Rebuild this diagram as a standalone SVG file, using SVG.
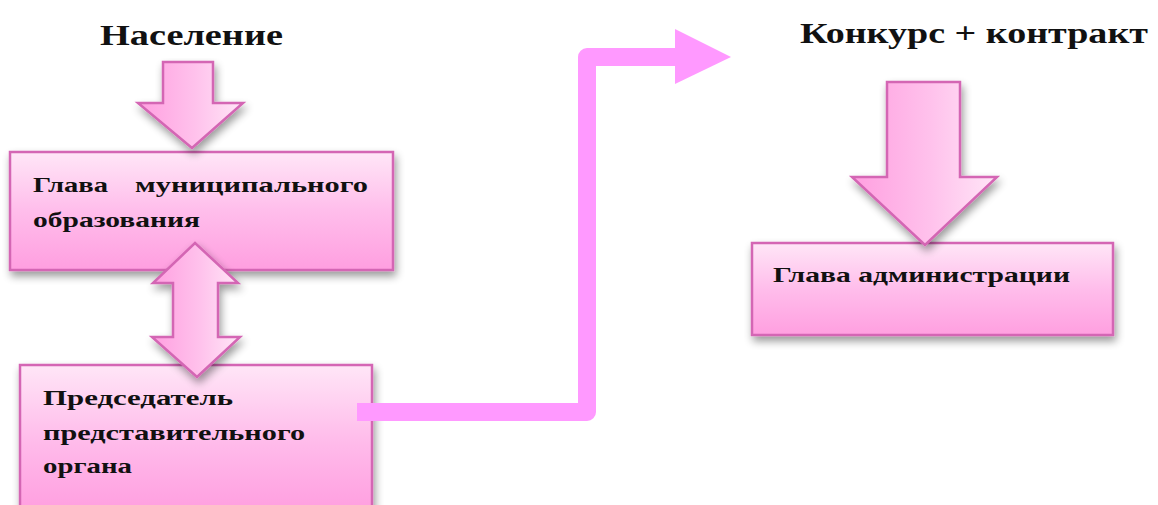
<svg xmlns="http://www.w3.org/2000/svg" width="1158" height="505" viewBox="0 0 1158 505">
<defs>
<linearGradient id="gBox" x1="0" y1="0" x2="0" y2="1">
<stop offset="0" stop-color="#ffe6f7"/>
<stop offset="0.5" stop-color="#ffbdeb"/>
<stop offset="1" stop-color="#ff9fe0"/>
</linearGradient>
<linearGradient id="gArr" x1="0" y1="0" x2="1" y2="0">
<stop offset="0" stop-color="#ff9fe0"/>
<stop offset="0.55" stop-color="#ffc2ec"/>
<stop offset="1" stop-color="#ffe6f7"/>
</linearGradient>
<filter id="sh" x="-10%" y="-10%" width="125%" height="135%">
<feGaussianBlur in="SourceAlpha" stdDeviation="4"/>
<feOffset dx="2" dy="5" result="b"/>
<feComponentTransfer><feFuncA type="linear" slope="0.4"/></feComponentTransfer>
<feMerge><feMergeNode/><feMergeNode in="SourceGraphic"/></feMerge>
</filter>
</defs>
<style>
.box{fill:url(#gBox);stroke:#d466b4;stroke-width:2.5;filter:url(#sh)}
.arr{fill:url(#gArr);stroke:#d466b4;stroke-width:2.5;stroke-linejoin:miter;filter:url(#sh)}
.t{font-family:"Liberation Serif","Times New Roman",serif;font-weight:bold;fill:#111}
.h{font-size:29px}
.b{font-size:22px}
</style>
<rect width="1158" height="505" fill="#fff"/>
<g id="title-naselenie"><text class="t h" x="100" y="45" textLength="183" lengthAdjust="spacingAndGlyphs">Население</text></g>
<g id="title-konkurs"><text class="t h" x="800" y="43" textLength="348" lengthAdjust="spacingAndGlyphs">Конкурс + контракт</text></g>
<g id="node-glava-mo">
<rect class="box" x="10" y="152" width="383" height="118"/>
<text class="t b" x="33" y="192" textLength="75" lengthAdjust="spacingAndGlyphs">Глава</text>
<text class="t b" x="135" y="192" textLength="233" lengthAdjust="spacingAndGlyphs">муниципального</text>
<text class="t b" x="33" y="227" textLength="167" lengthAdjust="spacingAndGlyphs">образования</text>
</g>
<g id="node-predsedatel">
<rect class="box" x="20" y="365" width="352" height="145"/>
<text class="t b" x="43" y="405" textLength="190" lengthAdjust="spacingAndGlyphs">Председатель</text>
<text class="t b" x="43" y="440" textLength="262" lengthAdjust="spacingAndGlyphs">представительного</text>
<text class="t b" x="43" y="473" textLength="89" lengthAdjust="spacingAndGlyphs">органа</text>
</g>
<g id="node-glava-admin">
<rect class="box" x="752" y="243" width="361" height="92"/>
<text class="t b" x="773" y="282" textLength="297" lengthAdjust="spacingAndGlyphs">Глава администрации</text>
</g>
<g id="connectors">
<polygon class="arr" points="163,62 213,62 213,103 243,103 192,148 138,103 163,103"/>
<polygon class="arr" points="887,82 960,82 960,177 997,177 925,245 852,177 887,177"/>
<polygon class="arr" points="195,243 238,283 218,283 218,337 240,337 197,377 152,337 173,337 173,283 153,283"/>
<polyline points="357,412 587,412 587,57 676,57" fill="none" stroke="#ff99ff" stroke-width="18" stroke-linejoin="round"/>
<polygon points="675,29 731,57 675,84" fill="#ff99ff"/>
</g>
</svg>
